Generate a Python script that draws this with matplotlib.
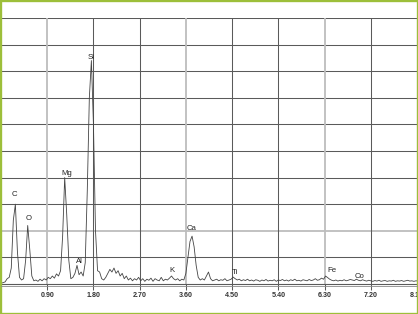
import numpy as np
import matplotlib
matplotlib.use("Agg")
import matplotlib.pyplot as plt
from matplotlib.patches import Rectangle
from matplotlib.lines import Line2D

# ---- data ----
channel_width = 0.04  # keV per channel
counts = [
    0.03, 0.05, 0.08, 0.20, 0.25, 0.60, 2.40, 3.00, 1.20, 0.25,
    0.15, 0.20, 0.90, 2.20, 1.30, 0.30, 0.12, 0.15, 0.10, 0.18,
    0.12, 0.20, 0.15, 0.25, 0.20, 0.30, 0.22, 0.38, 0.30, 0.50,
    1.80, 4.00, 2.60, 0.90, 0.20, 0.25, 0.40, 0.70, 0.35, 0.45,
    0.30, 0.80, 3.50, 7.00, 8.40, 6.00, 2.00, 0.50, 0.45, 0.20,
    0.15, 0.25, 0.40, 0.55, 0.45, 0.60, 0.40, 0.50, 0.30, 0.40,
    0.20, 0.30, 0.15, 0.22, 0.12, 0.20, 0.15, 0.25, 0.12, 0.20,
    0.10, 0.18, 0.14, 0.22, 0.10, 0.20, 0.15, 0.12, 0.25, 0.12,
    0.18, 0.15, 0.22, 0.30, 0.20, 0.15, 0.20, 0.12, 0.18, 0.15,
    0.40, 1.00, 1.60, 1.80, 1.40, 0.70, 0.25, 0.15, 0.20, 0.15,
    0.30, 0.45, 0.20, 0.12, 0.15, 0.18, 0.12, 0.16, 0.14, 0.20,
    0.12, 0.15, 0.18, 0.26, 0.20, 0.15, 0.18, 0.12, 0.16, 0.13,
    0.18, 0.12, 0.15, 0.11, 0.16, 0.14, 0.10, 0.15, 0.12, 0.17,
    0.11, 0.14, 0.12, 0.16, 0.10, 0.15, 0.13, 0.17, 0.12, 0.15,
    0.11, 0.16, 0.13, 0.18, 0.12, 0.14, 0.11, 0.16, 0.14, 0.12,
    0.17, 0.13, 0.15, 0.20, 0.14, 0.16, 0.22, 0.18, 0.30, 0.24,
    0.18, 0.14, 0.12, 0.15, 0.11, 0.14, 0.12, 0.16, 0.12, 0.14,
    0.17, 0.15, 0.13, 0.18, 0.14, 0.12, 0.16, 0.13, 0.11, 0.14,
    0.12, 0.10, 0.13, 0.11, 0.14, 0.10, 0.12, 0.13, 0.10, 0.12,
    0.11, 0.14, 0.10, 0.12, 0.11, 0.13, 0.10, 0.12, 0.14, 0.11,
    0.12, 0.10, 0.12, 0.11,
]
tick_values = [0.90, 1.80, 2.70, 3.60, 4.50, 5.40, 6.30, 7.20, 8.10]
tick_labels = ["0.90", "1.80", "2.70", "3.60", "4.50", "5.40", "6.30", "7.20", "8.10"]
peak_names = ["C", "O", "Mg", "Al", "Si", "K", "Ca", "Ti", "Fe", "Co"]
peak_energy = [0.27, 0.53, 1.285, 1.52, 1.75, 3.33, 3.72, 4.56, 6.44, 6.99]
label_height = [3.35, 2.48, 4.17, 0.86, 8.53, 0.49, 2.10, 0.45, 0.49, 0.30]

energy = np.arange(len(counts)) * channel_width

# ---- figure ----
W, H = 418, 314
fig = plt.figure(figsize=(W / 100, H / 100), dpi=100)
fig.patch.set_facecolor("white")
ax = fig.add_axes([1 / W, 30 / H, 416 / W, 266 / H])
ax.set_xlim(0, 8.1)
ax.set_ylim(0, 10)

dark = "#5a5a5a"
light = "#bdbdbd"
# horizontal grid
for v in range(1, 11):
    c, lw = (light, 1.3) if v == 2 else (dark, 0.75)
    ax.axhline(v, color=c, lw=lw, zorder=1)
# vertical grid
for i, v in enumerate(tick_values):
    c, lw = (light, 1.3) if i % 3 == 0 else (dark, 0.75)
    ax.axvline(v, color=c, lw=lw, zorder=1)

ax.plot(energy, counts, color="#444444", lw=0.6, zorder=3)

for s in ["left", "right", "top"]:
    ax.spines[s].set_visible(False)
ax.spines["bottom"].set_color(dark)
ax.spines["bottom"].set_linewidth(0.8)
ax.set_yticks([])
ax.set_xticks(tick_values)
ax.set_xticklabels(tick_labels, fontsize=5.1, fontweight="bold",
                   color="#333333", family="Liberation Sans")
ax.tick_params(axis="x", length=4, width=0.75, color=dark, pad=1.8)

# second line just below axis
fig.add_artist(Line2D([1 / W, 417 / W], [(H - 286) / H] * 2, color="#888888",
                      lw=0.6, transform=fig.transFigure))

for name, e, h in zip(peak_names, peak_energy, label_height):
    ax.text(e, h, name, fontsize=5.6, color="#222222", ha="center", va="center",
            family="Liberation Sans", zorder=4)

# green frame
fig.add_artist(Rectangle((0, 0), 1, 1, transform=fig.transFigure, fill=False,
                         edgecolor="#9dbf3a", lw=2.4, clip_on=False))

fig.savefig("out.png", dpi=100, facecolor="white")
